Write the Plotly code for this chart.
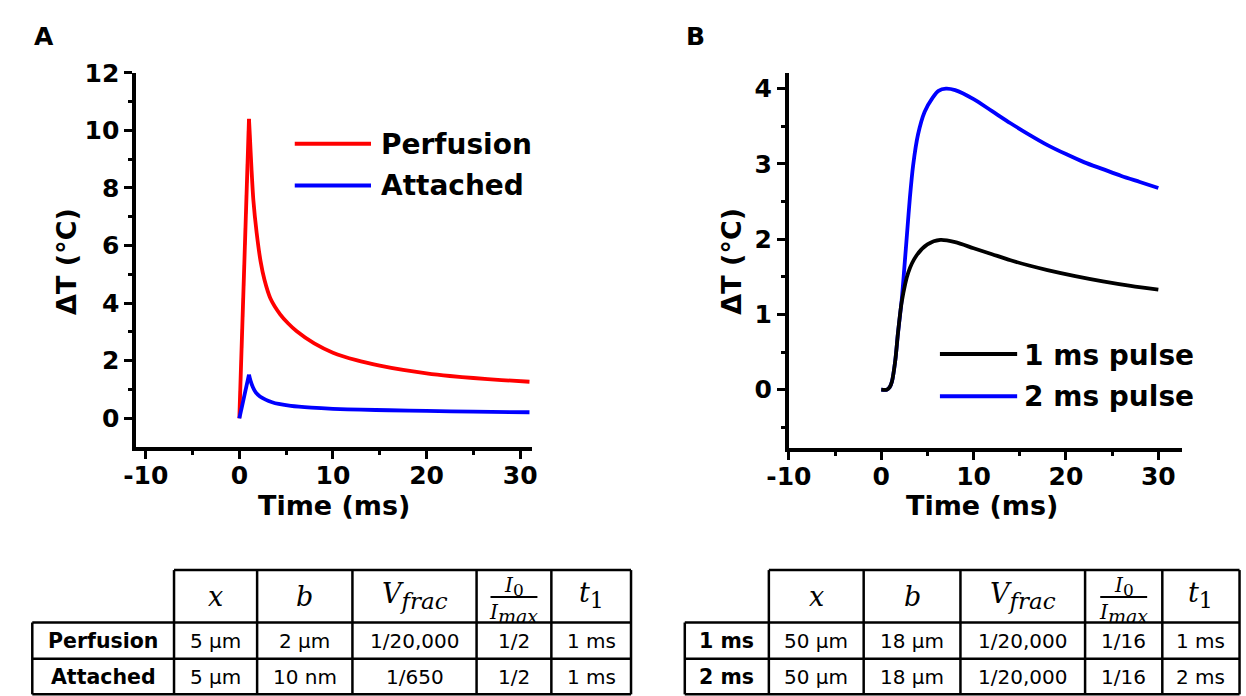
import plotly.graph_objects as go

# ---------------- data ----------------
# Panel A: temperature rise after a 1 ms pulse
perf_t = [0, 1.03, 1.12, 1.29, 1.5, 1.85, 2.27, 2.69, 3.31, 4.36, 5.2, 6.1, 8, 10, 12.5, 15, 17.5, 20, 22.5, 25, 28, 31]
perf_T = [0, 10.4, 9.84, 8.71, 7.57, 6.44, 5.45, 4.8, 4.17, 3.61, 3.3, 3.03, 2.6, 2.28, 2.02, 1.83, 1.68, 1.56, 1.47, 1.40, 1.33, 1.27]
att_t = [0, 1.03, 1.2, 1.45, 1.75, 2.2, 2.8, 3.5, 4.2, 5.5, 7.7, 10, 13, 16, 20, 25, 31]
att_T = [0, 1.52, 1.3, 1.08, 0.9, 0.76, 0.65, 0.56, 0.5, 0.43, 0.37, 0.33, 0.3, 0.28, 0.26, 0.23, 0.21]

# Panel B: 1 ms and 2 ms pulses
p1_t = [0, 0.6, 0.9, 1.16, 1.52, 1.8, 2.22, 2.93, 3.8, 5.0, 6.4, 8, 10, 12, 14, 16, 18, 21, 24, 27, 30]
p1_T = [0, 0, 0.03, 0.11, 0.39, 0.74, 1.17, 1.56, 1.78, 1.93, 1.99, 1.96, 1.88, 1.80, 1.72, 1.65, 1.59, 1.51, 1.44, 1.38, 1.33]
p2_t = [0, 0.6, 0.9, 1.16, 1.52, 1.8, 2.22, 2.5, 2.82, 3.1, 3.45, 3.98, 4.69, 5.57, 6.2, 7.0, 8, 10, 12, 14, 16, 18, 20, 22, 24, 26, 28, 30]
p2_T = [0, 0, 0.03, 0.11, 0.39, 0.74, 1.2, 1.62, 2.12, 2.55, 2.98, 3.39, 3.69, 3.88, 3.97, 4.0, 3.98, 3.86, 3.70, 3.54, 3.39, 3.25, 3.13, 3.02, 2.93, 2.84, 2.76, 2.68]

series_a = ["Perfusion", "Attached"]
series_b = ["1 ms pulse", "2 ms pulse"]

# tick positions / labels
x_ticks = [-10, 0, 10, 20, 30]
x_ticklabels = ["-10", "0", "10", "20", "30"]
x_minor = [-5, 5, 15, 25]
ya_ticks = [0, 2, 4, 6, 8, 10, 12]
ya_ticklabels = ["0", "2", "4", "6", "8", "10", "12"]
ya_minor = [1, 3, 5, 7, 9, 11]
yb_ticks = [0, 1, 2, 3, 4]
yb_ticklabels = ["0", "1", "2", "3", "4"]
yb_minor = [-0.5, 0.5, 1.5, 2.5, 3.5]

# parameter tables
tab_a_rows = ["Perfusion", "Attached"]
tab_a_x = ["5 µm", "5 µm"]
tab_a_b = ["2 µm", "10 nm"]
tab_a_vfrac = ["1/20,000", "1/650"]
tab_a_ratio = ["1/2", "1/2"]
tab_a_t1 = ["1 ms", "1 ms"]

tab_b_rows = ["1 ms", "2 ms"]
tab_b_x = ["50 µm", "50 µm"]
tab_b_b = ["18 µm", "18 µm"]
tab_b_vfrac = ["1/20,000", "1/20,000"]
tab_b_ratio = ["1/16", "1/16"]
tab_b_t1 = ["1 ms", "2 ms"]

# ---------------- layout helpers ----------------
W, H = 1246, 696


def px(x):
    return x / W


def py(y):
    return 1 - y / H


AX_FONT = dict(family="DejaVu Sans", size=25, color="black", weight="bold")
TITLE_FONT = dict(family="DejaVu Sans", size=27, color="black", weight="bold")
LEG_FONT = dict(family="DejaVu Sans", size=28, color="black", weight="bold")
LW = 3.8

fig = go.Figure()

# sharp rise during the pulse, smooth decay afterwards
fig.add_trace(go.Scatter(x=perf_t[:2], y=perf_T[:2], mode="lines", name=series_a[0],
                         line=dict(color="#ff0000", width=LW), xaxis="x", yaxis="y"))
fig.add_trace(go.Scatter(x=perf_t[1:], y=perf_T[1:], mode="lines", name=series_a[0],
                         line=dict(color="#ff0000", width=LW, shape="spline", smoothing=0.8),
                         xaxis="x", yaxis="y"))
fig.add_trace(go.Scatter(x=att_t[:2], y=att_T[:2], mode="lines", name=series_a[1],
                         line=dict(color="#0000ff", width=LW), xaxis="x", yaxis="y"))
fig.add_trace(go.Scatter(x=att_t[1:], y=att_T[1:], mode="lines", name=series_a[1],
                         line=dict(color="#0000ff", width=LW, shape="spline", smoothing=0.8),
                         xaxis="x", yaxis="y"))
fig.add_trace(go.Scatter(x=p2_t, y=p2_T, mode="lines", name=series_b[1],
                         line=dict(color="#0000ff", width=LW, shape="spline", smoothing=0.8),
                         xaxis="x2", yaxis="y2"))
fig.add_trace(go.Scatter(x=p1_t, y=p1_T, mode="lines", name=series_b[0],
                         line=dict(color="#000000", width=LW, shape="spline", smoothing=0.8),
                         xaxis="x2", yaxis="y2"))


def axis(domain, rng, tickvals, ticktext, minor_vals, anchor, standoff=0):
    return dict(
        domain=domain, range=rng, anchor=anchor,
        showline=True, linecolor="black", linewidth=4, mirror=False,
        showgrid=False, zeroline=False,
        tickmode="array", tickvals=tickvals, ticktext=ticktext,
        ticks="outside", ticklen=8, tickwidth=3, tickcolor="black",
        tickfont=AX_FONT, ticklabelstandoff=standoff,
        minor=dict(tickmode="array", tickvals=minor_vals, ticks="outside",
                   ticklen=4, tickwidth=3, tickcolor="black", showgrid=False),
    )


# panel areas in pixels
A_L, A_R, A_T, A_B = 116, 521, 60, 442
B_L, B_R, B_T, B_B = 783.5, 1186, 60, 442.6

fig.update_layout(
    width=W, height=H, margin=dict(l=0, r=0, t=0, b=0),
    paper_bgcolor="white", plot_bgcolor="white", showlegend=False,
    xaxis=axis([px(A_L), px(A_R)], [-11.0, 31.3], x_ticks, x_ticklabels, x_minor, "y", -5),
    yaxis=axis([py(A_B), py(A_T)], [-1, 12], ya_ticks, ya_ticklabels, ya_minor, "x"),
    xaxis2=axis([px(B_L), px(B_R)], [-10, 32.6], x_ticks, x_ticklabels, x_minor, "y2", -5),
    yaxis2=axis([py(B_B), py(B_T)], [-0.77, 4.21], yb_ticks, yb_ticklabels, yb_minor, "x2"),
)

shapes = []
annots = []


def text(x, y, s, font, xanchor="center", angle=0):
    annots.append(dict(x=px(x), y=py(y), xref="paper", yref="paper", text=s,
                       showarrow=False, xanchor=xanchor, yanchor="middle",
                       font=font, textangle=angle))


def hline(x0, x1, y, color="black", width=2.5):
    shapes.append(dict(type="line", xref="paper", yref="paper",
                       x0=px(x0), x1=px(x1), y0=py(y), y1=py(y),
                       line=dict(color=color, width=width)))


def vline(x, y0, y1, width=2.5):
    shapes.append(dict(type="line", xref="paper", yref="paper",
                       x0=px(x), x1=px(x), y0=py(y0), y1=py(y1),
                       line=dict(color="black", width=width)))


# panel letters
text(21, 23, "A", dict(family="DejaVu Sans", size=25, color="black", weight="bold"))
text(688, 23, "B", dict(family="DejaVu Sans", size=25, color="black", weight="bold"))

# axis titles
text((A_L + A_R) / 2, 502, "Time (ms)", TITLE_FONT)
text(45, 252, "ΔT (°C)", TITLE_FONT, angle=-90)
text((B_L + B_R) / 2 - 4, 502, "Time (ms)", TITLE_FONT)
text(725, 252, "ΔT (°C)", TITLE_FONT, angle=-90)

# legends
hline(278, 356, 132.3, "#ff0000", 4)
hline(278, 356, 175, "#0000ff", 4)
text(364, 133, series_a[0], LEG_FONT, xanchor="left")
text(364, 175, series_a[1], LEG_FONT, xanchor="left")
hline(938, 1017, 347, "#000000", 4)
hline(938, 1017, 390, "#0000ff", 4)
text(1022, 348, series_b[0], LEG_FONT, xanchor="left")
text(1022, 390, series_b[1], LEG_FONT, xanchor="left")

# ---------------- tables ----------------
HEAD_FONT = dict(family="DejaVu Serif", size=27, color="black")
FRAC_FONT = dict(family="DejaVu Serif", size=20, color="black")
CELL_FONT = dict(family="DejaVu Sans", size=20, color="black")
ROW_FONT = dict(family="DejaVu Sans", size=20.5, color="black", weight="bold")


def sub(s, size, italic=True):
    inner = f"<i>{s}</i>" if italic else s
    return f"<sub><span style='font-size:{size}px'>{inner}</span></sub>"


def draw_table(cols, rows_y, labels, columns):
    top, head_bot = rows_y[0], rows_y[1]
    bottom = rows_y[-1]
    # borders
    hline(cols[1], cols[-1], top)
    for y in rows_y[1:]:
        hline(cols[0], cols[-1], y)
    vline(cols[0], head_bot, bottom)
    for x in cols[1:]:
        vline(x, top, bottom)
    # header
    cx = [(cols[i] + cols[i + 1]) / 2 for i in range(len(cols) - 1)]
    hy = (top + head_bot) / 2
    text(cx[1], hy, "<i>x</i>", HEAD_FONT)
    text(cx[2], hy, "<i>b</i>", HEAD_FONT)
    text(cx[3], hy, "<i>V</i>" + sub("frac", 23), HEAD_FONT)
    text(cx[4], top + 17, "<i>I</i>" + sub("0", 17, italic=False), FRAC_FONT)
    hline(cx[4] - 24, cx[4] + 24, top + 27.5, "black", 2)
    text(cx[4], top + 44, "<i>I</i>" + sub("max", 19), FRAC_FONT)
    text(cx[5], hy - 1, "<i>t</i>" + sub("1", 22, italic=False), HEAD_FONT)
    # body
    for r in range(len(labels)):
        ry = (rows_y[r + 1] + rows_y[r + 2]) / 2
        text(cx[0], ry, labels[r], ROW_FONT)
        for c, col in enumerate(columns):
            text(cx[c + 1], ry, col[r], CELL_FONT)


draw_table([9.5, 154.5, 239.5, 337, 464, 540.5, 622], [567.5, 621, 658, 694.3],
           tab_a_rows, [tab_a_x, tab_a_b, tab_a_vfrac, tab_a_ratio, tab_a_t1])
draw_table([677, 763, 860, 959, 1086.5, 1165.5, 1244.5], [567.5, 621, 658, 694.3],
           tab_b_rows, [tab_b_x, tab_b_b, tab_b_vfrac, tab_b_ratio, tab_b_t1])

fig.update_layout(shapes=shapes, annotations=annots)

fig.write_html("out.html", config={"displayModeBar": False})
